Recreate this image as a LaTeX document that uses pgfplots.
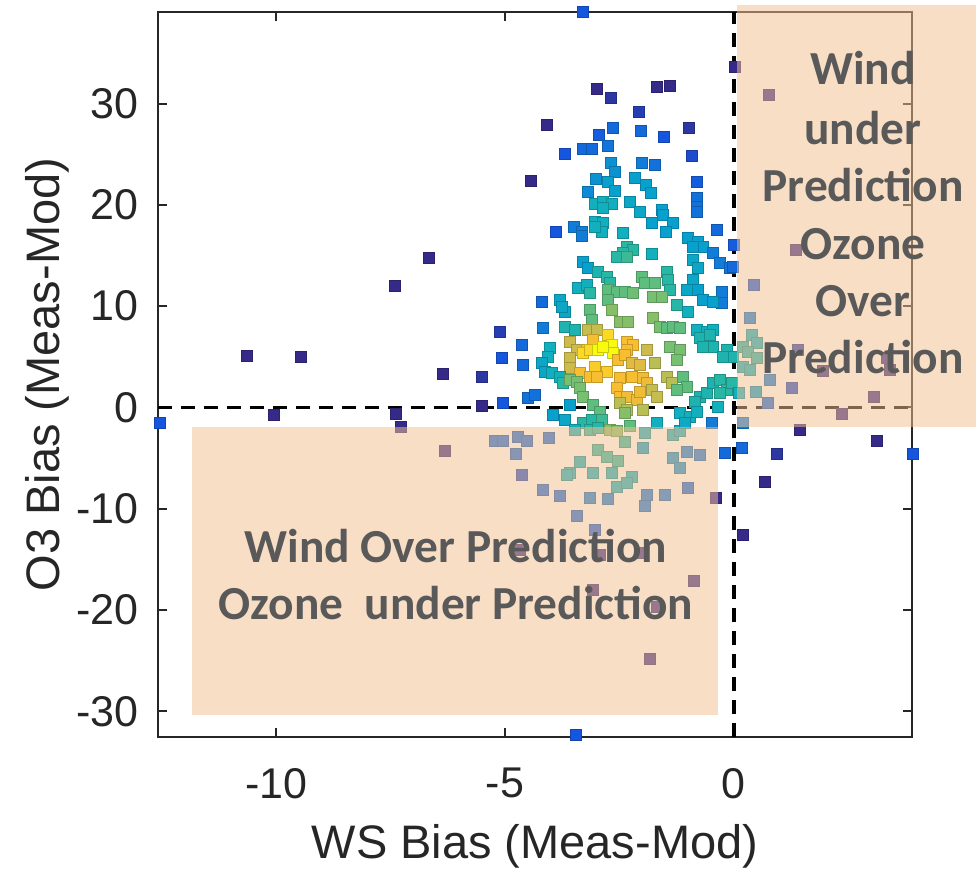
\documentclass[border=0pt]{standalone}
\usepackage{fontspec}
\setmainfont{Liberation Sans}
\newfontfamily\calib{Carlito}
\usepackage{pgfplots}
\pgfplotsset{compat=1.18}
\definecolor{axgray}{RGB}{38,38,38}
\definecolor{rectc}{RGB}{244,192,145}
\definecolor{txtc}{RGB}{89,89,89}
\begin{document}
\begin{tikzpicture}
\useasboundingbox (-79pt,-68.5pt) rectangle (409pt,368.5pt);
\begin{axis}[
  at={(0pt,0pt)}, anchor=south west,
  scale only axis, width=377pt, height=362.5pt,
  xmin=-12.58, xmax=3.89, ymin=-32.53, ymax=39.04,
  clip=false,
  xtick={-10,-5,0}, ytick={-30,-20,-10,0,10,20,30},
  tick align=inside, major tick length=4.5pt,
  axis line style={axgray, line width=1pt},
  every tick/.style={axgray, line width=1pt},
  tick label style={font=\fontsize{21.5}{24}\selectfont, text=axgray},
  /pgf/number format/assume math mode=true,
  xticklabel style={anchor=north, inner sep=0pt, yshift=-15.5pt},
  yticklabel style={anchor=east, inner sep=0pt, xshift=-9.5pt},
  xlabel={WS Bias (Meas-Mod)}, ylabel={O3 Bias (Meas-Mod)},
  label style={font=\fontsize{23.5}{26}\selectfont, text=axgray},
  xlabel style={at={(axis description cs:0.5,-0.1669)}, anchor=base},
  ylabel style={at={(axis description cs:-0.130,0.5)}, anchor=base},
  colormap={parula}{rgb255(0cm)=(53,42,135); rgb255(2cm)=(22,85,222); rgb255(4cm)=(18,125,216); rgb255(5cm)=(8,160,205); rgb255(6cm)=(18,175,190); rgb255(7cm)=(40,182,165); rgb255(8cm)=(95,190,125); rgb255(9cm)=(135,191,105); rgb255(10cm)=(185,190,85); rgb255(12cm)=(225,186,65); rgb255(13cm)=(248,190,50); rgb255(15cm)=(250,218,38); rgb255(16cm)=(250,250,15)},
  point meta min=0, point meta max=8,
]
\addplot[scatter, only marks, mark=square*, mark size=2.7pt, scatter src=explicit] table[x=x,y=y,meta=c] {
x y c
-3.30 39.04 1
0.02 33.61 0
0.76 30.85 0
-2.99 31.44 0
-2.69 30.55 0.3
-1.68 31.64 0
-1.40 31.74 0
-2.07 29.17 0.5
-4.08 27.89 0
-2.64 27.59 1.5
-2.03 27.30 1.5
-1.53 26.70 1
-0.98 27.59 0.3
-2.95 26.90 1.2
-3.30 25.52 1.5
-3.10 25.52 1.5
-2.75 25.81 1.8
-3.69 25.02 1
-0.92 24.83 0.8
-4.43 22.36 0
-2.01 24.14 2
-1.72 23.94 1.7
-2.69 24.14 2.3
-2.60 23.25 2.3
-3.01 22.56 2.3
-2.75 22.26 2.5
-2.16 22.66 2.5
-1.92 21.96 2.5
-1.81 21.17 2.5
-0.81 22.26 1.2
-3.19 21.27 2.2
-2.60 21.37 2.5
-0.81 20.68 1.7
-0.81 19.79 1.7
-0.81 19.30 1.7
-3.03 20.09 3
-2.86 20.29 3
-2.66 20.09 3
-2.86 19.69 3
-2.27 20.29 2.7
-2.05 19.30 2.7
-1.57 19.50 2.5
-1.55 19.00 2.5
-3.03 18.31 3
-2.86 18.21 3
-2.88 17.32 3
-3.03 17.82 3
-1.79 18.21 2.5
-1.33 18.21 2.5
-1.48 17.32 2.5
-3.89 17.32 1
-3.49 17.82 2
-3.32 17.32 2
-3.32 16.93 2
-2.42 17.23 3
-1.00 16.73 2.5
-0.79 16.34 2.5
-0.68 15.84 2.5
-0.90 15.84 2.5
-0.37 17.52 1.5
0.00 16.04 1.2
-2.34 15.84 3.5
-2.21 15.55 3.5
-2.42 15.25 3.5
-1.79 15.15 3
-0.46 15.25 2
1.35 15.55 0
-3.30 14.36 2.5
-3.19 13.77 2.5
-2.97 13.38 3.3
-2.77 12.88 3.5
-2.71 12.29 3.5
-2.55 14.86 3.5
-2.34 14.86 3.7
-2.01 12.88 4
-1.94 12.29 4
-1.72 12.29 4
-1.46 13.38 3.5
-1.44 12.59 3.5
-1.40 11.60 3.5
-0.90 14.56 2.7
-0.79 13.77 2.7
-0.90 12.59 2.7
-0.79 11.60 2.5
-1.03 11.60 2.7
-0.31 14.26 2
-0.09 13.77 1.8
-3.41 11.80 3
-3.21 12.09 3
-3.14 11.30 3.5
-2.75 11.60 4
-2.55 11.40 4
-2.75 10.61 4
-2.38 11.40 4
-2.21 11.30 4.2
-1.77 10.91 4.3
-1.57 10.91 4.3
-1.24 10.12 3.5
-1.00 9.43 3
-0.26 11.40 2
-0.26 10.32 2
-4.19 10.41 1.5
-3.80 10.61 2.7
-3.69 9.43 2.7
-3.76 9.92 2.7
-3.14 9.62 4
-3.10 8.64 4
-2.66 9.62 4.5
-2.49 8.44 4.5
-2.31 8.44 4.5
-1.77 8.84 4.5
-1.62 7.95 4.3
-1.46 7.85 4
-1.33 7.95 4
-1.18 7.85 4
-0.81 7.65 3
-0.59 7.45 3
-0.46 7.65 3
-0.68 10.61 2.5
-0.46 10.41 2.5
-5.11 7.45 0.5
-4.17 7.85 2
-3.69 7.95 3.3
-3.47 7.65 3.3
-3.19 7.65 5.3
-2.99 7.65 5.3
-4.63 6.17 1.5
-4.02 5.87 3
-4.06 4.99 3
-3.58 6.47 5.5
-3.43 5.68 5.5
-3.08 6.66 6.5
-3.21 5.68 6.5
-2.75 7.16 7.5
-2.66 6.17 8
-2.64 5.38 8
-2.34 6.47 6.5
-2.21 6.17 6.5
-2.34 5.68 6.5
-1.90 5.68 5.5
-1.72 4.39 5
-1.40 5.97 4.3
-1.18 5.68 4.3
-1.24 4.69 4.3
-0.74 6.86 3.3
-0.52 7.16 3.3
-0.46 5.97 3.3
-0.68 5.97 3.3
-0.15 5.68 3.3
-0.02 4.99 3.3
-0.24 4.99 3.3
-5.07 4.89 1
-4.61 4.20 1.5
-4.19 4.39 2.7
-4.13 3.50 2.7
-3.58 4.89 5.5
-3.58 3.90 5.5
-3.30 5.38 7.5
-3.14 5.68 7.5
-2.97 5.68 8
-2.86 5.97 8
-3.03 4.00 7
-2.77 3.50 7
-2.53 4.69 6.5
-2.38 5.18 6.5
-2.23 4.39 6
-2.05 4.20 6
-3.36 3.41 6.5
-3.97 3.41 3
-3.80 3.01 3
-3.73 2.42 3.5
-3.58 2.71 4.3
-3.43 2.52 4.3
-3.14 3.01 6.5
-2.99 3.01 6.5
-2.49 2.91 6.5
-2.23 3.01 6.5
-1.99 2.91 6.3
-1.90 2.42 6.3
-1.46 3.01 5
-1.35 2.42 5
-1.11 3.01 4
-1.03 2.02 4
-0.74 1.04 3.3
-0.59 1.43 3.3
-0.46 2.42 3.3
-0.31 2.71 3.5
-0.15 1.73 3.5
-0.04 2.42 3.5
-5.50 3.01 0.3
-5.04 0.44 1
-4.50 0.94 1.7
-4.34 1.23 1.7
-5.50 0.15 0
-3.36 1.93 4.3
-3.30 1.04 4.3
-2.55 1.93 6.5
-2.49 1.04 6.5
-2.34 1.04 6.3
-2.12 0.74 6.3
-2.05 1.53 6.3
-1.79 1.73 5.3
-1.68 1.04 5.3
-1.24 1.73 4
-0.85 0.54 3.3
-0.31 1.43 3.5
-3.95 -0.74 2.5
-3.58 0.25 2.5
-3.69 -1.23 2.7
-3.08 0.25 4
-2.93 -0.44 4
-2.49 0.44 5
-2.34 -0.25 5
-1.99 -0.25 5
-1.18 -0.54 3
-0.96 -0.94 3
-0.35 0.05 3
-0.81 -0.44 3
-3.30 -1.53 3.5
-3.10 -1.23 3.5
-2.88 -1.23 3.7
-2.71 -2.22 4.5
-2.55 -2.32 4.5
-2.27 -1.83 4
-2.38 -0.54 4.5
-1.94 -2.52 3
-1.68 -1.53 3
-1.33 -2.71 3
-1.18 -2.32 3
-1.07 -1.53 2.8
-0.48 -1.53 2
-3.47 -2.22 3
-3.14 -2.22 3.5
-2.97 -2.02 3.5
-2.97 -4.20 3.5
-2.77 -4.89 3.5
-2.53 -5.28 3.5
-2.38 -3.41 3.5
-3.36 -5.38 3
-3.58 -6.47 3
-3.08 -6.47 3
-2.66 -6.47 3
-2.23 -6.86 3
-2.55 -7.85 3
-2.34 -7.45 3
-3.14 -8.93 2
-2.75 -9.03 2
-1.99 -4.00 2.5
-1.90 -8.64 1.8
-1.94 -9.72 1.8
-1.51 -8.64 1.8
-1.33 -4.99 2.3
-1.18 -5.97 2.3
-1.03 -4.39 2
-0.74 -4.69 1.8
-1.00 -7.95 1.5
-3.43 -10.71 1.5
-3.03 -12.09 1.2
-0.39 -8.93 0
-0.20 -4.49 1.5
0.20 -12.59 0
0.17 -4.00 1.5
0.20 -1.53 2
-4.67 -14.07 0
-2.93 -14.56 0
-1.99 -14.37 0
-0.87 -17.13 0
-3.08 -18.02 0
-1.68 -19.69 0
-1.83 -24.83 0
-3.45 -32.33 1
-5.22 -3.31 1.5
-5.04 -3.31 1.5
-4.72 -2.91 1.5
-4.52 -3.31 1.5
-4.76 -4.59 1.5
-4.04 -3.01 1.5
-4.63 -6.66 0.8
-4.17 -8.14 1.5
-3.80 -8.74 1.5
-3.65 -6.66 3
-6.31 -4.29 0
-7.38 -0.64 0
-7.27 -1.92 0
-10.04 -0.74 0
-12.53 -1.53 1
-10.63 5.08 0
-9.45 4.99 0
-6.66 14.76 0
-7.40 12.00 0
-6.35 3.31 0
1.44 -2.22 0
3.12 -3.31 0
3.91 -4.59 1
0.68 -7.35 0
0.94 -4.59 0.3
2.36 -0.64 0
3.06 1.04 0
1.27 1.93 0.8
0.74 0.44 1.5
0.48 1.53 2.5
0.11 1.43 3
0.35 8.84 2
0.39 7.16 3
0.50 6.37 3
0.20 5.97 3.3
0.31 5.48 3.3
0.50 4.89 3.3
0.44 12.09 1
0.20 3.99 3
0.35 3.70 3
0.79 2.71 2
1.40 5.68 0.5
1.94 3.60 0
3.34 4.89 0
3.41 3.70 0
-0.02 13.87 1.5
};
\draw[black, line width=1.6pt, dash pattern=on 7pt off 4.5pt] (axis cs:0,-32.53) -- (axis cs:0,39.04);
\draw[black, line width=1.6pt, dash pattern=on 7pt off 4.5pt] (axis cs:-12.58,0) -- (axis cs:3.89,0);
\coordinate (ra1) at (axis cs:-11.83,-1.93);
\coordinate (ra2) at (axis cs:-0.35,-30.36);
\coordinate (rb1) at (axis cs:0.066,-1.93);
\coordinate (rb2) at (axis cs:5.28,39.74);
\coordinate (t1) at (axis cs:-6.07,-15.30);
\coordinate (t2) at (axis cs:-6.07,-20.94);
\coordinate (u1) at (axis cs:2.82,31.84);
\coordinate (u2) at (axis cs:2.82,25.92);
\coordinate (u3) at (axis cs:2.82,20.32);
\coordinate (u4) at (axis cs:2.82,14.56);
\coordinate (u5) at (axis cs:2.82,8.97);
\coordinate (u6) at (axis cs:2.82,3.38);
\end{axis}
\fill[rectc, opacity=0.52] (ra1) rectangle (ra2);
\fill[rectc, opacity=0.52] (rb1) rectangle (rb2);
\begin{scope}[every node/.style={anchor=base, text=txtc, font=\calib\bfseries\fontsize{23.7}{28}\selectfont, inner sep=0pt}]
\node at (t1) {Wind Over Prediction};
\node at (t2) {Ozone\ \ under Prediction};
\node at (u1) {Wind};
\node at (u2) {under};
\node at (u3) {Prediction};
\node at (u4) {Ozone};
\node at (u5) {Over};
\node at (u6) {Prediction};
\end{scope}
\end{tikzpicture}
\end{document}
